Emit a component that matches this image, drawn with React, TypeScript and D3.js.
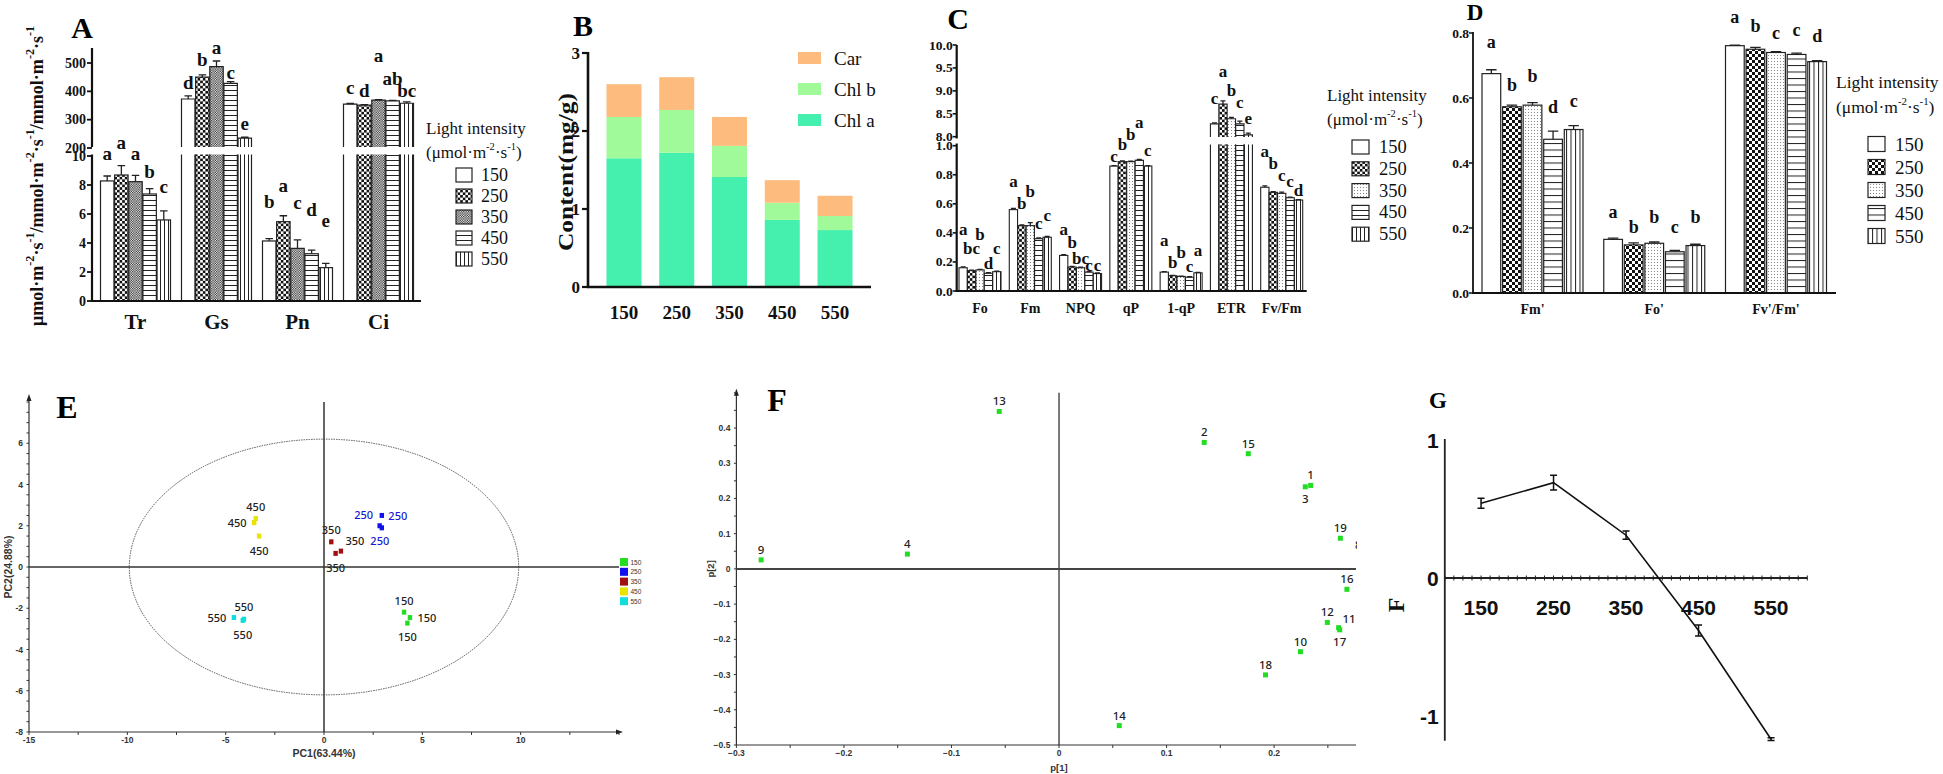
import React from 'react';
import * as d3 from 'd3';

const SERIF = '"Liberation Serif","Times New Roman",Times,serif';
const SANS = '"Liberation Sans",Arial,Helvetica,sans-serif';
const NOTO = '"Noto Sans","Open Sans",sans-serif';

// ---------------- data ----------------
const lightLevels = ['150', '250', '350', '450', '550'];

// A: gas exchange
const gasParams = ['Tr', 'Gs', 'Pn', 'Ci'];
const gasBrokenParams = ['Gs', 'Ci'];
const gasValues = [
  [8.28, 8.69, 8.23, 7.38, 5.59],
  [373, 450, 487, 428, 235],
  [4.14, 5.47, 3.63, 3.26, 2.3],
  [355, 351, 369, 366, 358],
];
const gasErrors = [
  [0.34, 0.64, 0.44, 0.37, 0.62],
  [11, 8, 20, 6, 3],
  [0.16, 0.41, 0.58, 0.25, 0.3],
  [2, 2, 2, 2, 5],
];
const gasLetters = [
  ['a', 'a', 'a', 'b', 'c'],
  ['d', 'b', 'a', 'c', 'e'],
  ['b', 'a', 'c', 'd', 'e'],
  ['c', 'd', 'a', 'ab', 'bc'],
];
const gasLowTicks = [0, 2, 4, 6, 8, 10];
const gasHighTicks = [200, 300, 400, 500];

// B: pigments
const pigmentKeys = ['Chl a', 'Chl b', 'Car'];
const chlA = [1.65, 1.72, 1.41, 0.86, 0.73];
const chlB = [0.53, 0.55, 0.4, 0.22, 0.18];
const car = [0.42, 0.42, 0.37, 0.29, 0.26];
const pigmentTicks = [0, 1, 2, 3];
const legendOrder = ['Car', 'Chl b', 'Chl a'];

// C: chlorophyll fluorescence
const chlfParams = ['Fo', 'Fm', 'NPQ', 'qP', '1-qP', 'ETR', 'Fv/Fm'];
const chlfBrokenParams = ['ETR'];
const chlfValues = [
  [0.16, 0.14, 0.145, 0.122, 0.133],
  [0.56, 0.45, 0.45, 0.36, 0.37],
  [0.245, 0.165, 0.16, 0.13, 0.12],
  [0.86, 0.89, 0.89, 0.9, 0.86],
  [0.13, 0.105, 0.1, 0.095, 0.125],
  [8.28, 8.71, 8.39, 8.28, 8.04],
  [0.714, 0.679, 0.672, 0.642, 0.626],
];
const chlfErrors = [
  [0.006, 0.004, 0.004, 0.004, 0.004],
  [0.008, 0.005, 0.02, 0.005, 0.005],
  [0.005, 0.004, 0.004, 0.004, 0.004],
  [0.003, 0.005, 0.003, 0.005, 0.003],
  [0.003, 0.003, 0.003, 0.003, 0.003],
  [0.02, 0.07, 0.03, 0.06, 0.04],
  [0.01, 0.004, 0.008, 0.004, 0.003],
];
const chlfLetters = [
  ['a', 'bc', 'b', 'd', 'c'],
  ['a', 'b', 'b', 'c', 'c'],
  ['a', 'b', 'bc', 'c', 'c'],
  ['c', 'b', 'b', 'a', 'c'],
  ['a', 'b', 'b', 'c', 'a'],
  ['c', 'a', 'b', 'c', 'e'],
  ['a', 'b', 'c', 'c', 'd'],
];
const chlfLowTicks = [0, 0.2, 0.4, 0.6, 0.8, 1.0];
const chlfHighTicks = [8.0, 8.5, 9.0, 9.5, 10.0];

// D: light-adapted fluorescence
const lightParams = ["Fm'", "Fo'", "Fv'/Fm'"];
const lightValues = [
  [0.675, 0.573, 0.578, 0.473, 0.503],
  [0.165, 0.148, 0.153, 0.127, 0.146],
  [0.761, 0.75, 0.74, 0.734, 0.712],
];
const lightErrors = [
  [0.012, 0.005, 0.008, 0.025, 0.012],
  [0.004, 0.006, 0.004, 0.004, 0.004],
  [0.002, 0.006, 0.003, 0.004, 0.003],
];
const lightLetters = [
  ['a', 'b', 'b', 'd', 'c'],
  ['a', 'b', 'b', 'c', 'b'],
  ['a', 'b', 'c', 'c', 'd'],
];
const lightTicks = [0, 0.2, 0.4, 0.6, 0.8];

// E: PCA scores
const pcaGroups = ['150', '250', '350', '450', '550'];
const pcaPC1 = [
  [4.07, 4.37, 4.24],
  [2.94, 2.83, 2.94],
  [0.37, 0.59, 0.86],
  [-3.47, -3.55, -3.3],
  [-4.58, -4.07, -4.13],
];
const pcaPC2 = [
  [-2.19, -2.45, -2.72],
  [2.5, 2.0, 1.9],
  [1.22, 0.66, 0.77],
  [2.35, 2.15, 1.5],
  [-2.45, -2.53, -2.59],
];
const pcaEllipse = [9.9, 6.2];
const pcaXTicks = [-15, -10, -5, 0, 5, 10];
const pcaYTicks = [-8, -6, -4, -2, 0, 2, 4, 6];

// F: loadings
const loadingIds = ['1', '2', '3', '4', '8', '9', '10', '11', '12', '13', '14', '15', '16', '17', '18', '19'];
const loadingP1 = [0.234, 0.135, 0.229, -0.141, 0.282, -0.277, 0.2245, 0.26, 0.2495, -0.0556, 0.056, 0.176, 0.2677, 0.261, 0.192, 0.2616];
const loadingP2 = [0.237, 0.359, 0.233, 0.042, 0.103, 0.0256, -0.235, -0.167, -0.152, 0.447, -0.445, 0.327, -0.058, -0.173, -0.301, 0.087];
const loadXTicks = [-0.3, -0.2, -0.1, 0, 0.1, 0.2];
const loadYTicks = [-0.5, -0.4, -0.3, -0.2, -0.1, 0, 0.1, 0.2, 0.3, 0.4];

// G: comprehensive score
const gLevels = [150, 250, 350, 450, 550];
const gScores = [0.541, 0.691, 0.31, -0.38, -1.168];
const gErrors = [0.036, 0.053, 0.03, 0.04, 0.01];
const gYTicks = [-1, 0, 1];

// ---------------- layout / style ----------------
const gasLetterLift = [
  [16, 17, 15, 11, 18],
  [7, 9, 7, 3, 7],
  [31, 24, 31, 34, 36],
  [10, 8, 38, 15, 5],
];
const chlfLetterLift = [
  [32, 16, 29, 4, 17],
  [21, 16, 26, 9, 16],
  [20, 18, 3, 1, 2],
  [4, 11, 21, 32, 10],
  [26, 7, 18, 5, 16],
  [19, 24, 21, 13, 9],
  [29, 23, 11, 10, 4],
];
const lightLetterLift = [
  [22, 14, 21, 18, 19],
  [20, 10, 19, 17, 21],
  [22, 15, 13, 17, 19],
];
const pigmentColors: Record<string, string> = { 'Chl a': '#45EFAD', 'Chl b': '#A0FA9A', Car: '#FDBB7E' };
const pcaColors = ['#22dd22', '#1111ee', '#a01010', '#e8e400', '#11dddd'];
const pcaLabelColors = ['#222', '#1a1ad0', '#222', '#222', '#222'];
const pcaLabelOffset = [
  [[0, -12], [17, 0], [0, 13]],
  [[16, 0], [-16, -11], [-2, 13]],
  [[0, -12], [0, 14], [14, -11]],
  [[0, -12], [-17, 0], [0, 14]],
  [[-17, 0], [0, -12.6], [0, 13.6]],
];
const loadLabelOffset: Record<string, number[]> = { '3': [0, 12], '17': [0, 12], '11': [10.5, -9], '8': [-4, 12] };

const fillsA = ['#fff', 'url(#pChecker)', 'url(#pFine)', 'url(#pHoriz)', 'url(#pVert)'];
const fillsC = ['#fff', 'url(#pChecker)', 'url(#pDots)', 'url(#pHoriz)', 'url(#pVert)'];
const fillsD = ['#fff', 'url(#pCheckerD)', 'url(#pDots)', 'url(#pHorizD)', 'url(#pVertD)'];

const INK = '#222';

function unitSpans(pairs: [string, string][], supSize: number, shift: number) {
  const out: any[] = [];
  let prevSup = false;
  pairs.forEach(([b, e], i) => {
    out.push(
      <tspan key={'b' + i} dy={prevSup ? shift : 0}>
        {b}
      </tspan>
    );
    prevSup = false;
    if (e) {
      out.push(
        <tspan key={'e' + i} dy={-shift} fontSize={supSize}>
          {e}
        </tspan>
      );
      prevSup = true;
    }
  });
  return out;
}

type BarCfg = {
  prefix: string;
  cats: string[];
  values: number[][];
  errors: number[][];
  letters: string[][];
  lifts: number[][];
  x: any;
  sub: any;
  yLow: any;
  yHigh?: any;
  broken: string[];
  lowCut?: number;
  highCut?: number;
  fills: string[];
  letterSize: number;
  strokeW: number;
};

function Bars(c: BarCfg) {
  const els: any[] = [];
  const base = c.yLow(0);
  c.cats.forEach((cat, ci) => {
    const isBroken = c.broken.includes(cat);
    const y = (v: number) => (isBroken ? c.yHigh(v) : c.yLow(v));
    lightLevels.forEach((lv, si) => {
      const v = c.values[ci][si];
      const e = c.errors[ci][si];
      const bw = c.sub.bandwidth();
      const bx = c.x(cat) + c.sub(lv);
      const fill = c.fills[si];
      const k = `${c.prefix}-${ci}-${si}`;
      const yt = y(v);
      if (isBroken) {
        const lc = c.lowCut as number;
        const hc = c.highCut as number;
        els.push(<rect key={k + 'lo'} x={bx} y={lc} width={bw} height={base - lc} fill={fill} />);
        els.push(
          <path key={k + 'lop'} d={`M${bx},${base}V${lc}M${bx + bw},${lc}V${base}`} stroke={INK} strokeWidth={c.strokeW} fill="none" />
        );
        els.push(<rect key={k + 'hi'} x={bx} y={yt} width={bw} height={hc - yt} fill={fill} />);
        els.push(
          <path key={k + 'hip'} d={`M${bx},${hc}V${yt}H${bx + bw}V${hc}`} stroke={INK} strokeWidth={c.strokeW} fill="none" />
        );
      } else {
        els.push(
          <rect key={k + 'r'} x={bx} y={yt} width={bw} height={base - yt} fill={fill} stroke={INK} strokeWidth={c.strokeW} />
        );
      }
      const ye = y(v + e);
      const cx = bx + bw / 2;
      const cw = Math.max(2.5, bw * 0.28);
      els.push(
        <path key={k + 'e'} d={`M${cx},${yt}V${ye}M${cx - cw},${ye}H${cx + cw}`} stroke={INK} strokeWidth={1.3} fill="none" />
      );
      els.push(
        <text
          key={k + 't'}
          x={cx}
          y={ye - c.lifts[ci][si]}
          textAnchor="middle"
          fontFamily={SERIF}
          fontWeight="bold"
          fontSize={c.letterSize}
          fill="#111"
        >
          {c.letters[ci][si]}
        </text>
      );
    });
  });
  return <g>{els}</g>;
}

function LightLegend(p: {
  x: number;
  titleY: number;
  unitY: number;
  boxX: number;
  boxW: number;
  boxH: number;
  row0: number;
  rowGap: number;
  labelX: number;
  fills: string[];
  size: number;
  labelSize: number;
}) {
  return (
    <g fontFamily={SERIF} fill="#111">
      <text x={p.x} y={p.titleY} dominantBaseline="central" fontSize={p.size}>
        Light intensity
      </text>
      <text x={p.x} y={p.unitY} dominantBaseline="central" fontSize={p.size}>
        {unitSpans(
          [
            ['(μmol·m', '-2'],
            ['·s', '-1'],
            [')', ''],
          ],
          p.size * 0.62,
          6
        )}
      </text>
      {lightLevels.map((l, i) => {
        const cy = p.row0 + i * p.rowGap;
        return (
          <g key={l}>
            <rect x={p.boxX} y={cy - p.boxH / 2} width={p.boxW} height={p.boxH} fill={p.fills[i]} stroke={INK} strokeWidth={1.2} />
            <text x={p.labelX} y={cy} dominantBaseline="central" fontSize={p.labelSize}>
              {l}
            </text>
          </g>
        );
      })}
    </g>
  );
}

function PanelA() {
  const axisX = 92;
  const yLow = d3.scaleLinear([0, 10], [301, 156]);
  const yHigh = d3.scaleLinear([200, 500], [148, 63]);
  const x = d3.scalePoint(gasParams, [135.5, 378.5]);
  const sub = d3.scaleBand(lightLevels, [-35, 35]).paddingInner(0.05);
  return (
    <g>
      <text x={82} y={27} dominantBaseline="central" textAnchor="middle" fontFamily={SERIF} fontWeight="bold" fontSize={30}>
        A
      </text>
      <Bars
        prefix="A"
        cats={gasParams}
        values={gasValues}
        errors={gasErrors}
        letters={gasLetters}
        lifts={gasLetterLift}
        x={x}
        sub={sub}
        yLow={yLow}
        yHigh={yHigh}
        broken={gasBrokenParams}
        lowCut={154.5}
        highCut={147}
        fills={fillsA}
        letterSize={19}
        strokeW={1.2}
      />
      {/* axes */}
      <path d={`M${axisX},${yLow(0)}V154.5`} stroke="#111" strokeWidth={2.2} fill="none" />
      <path d={`M${axisX},147V${yHigh(553)}`} stroke="#111" strokeWidth={2.2} fill="none" />
      <path d={`M${axisX - 1},${yLow(0)}H421`} stroke="#111" strokeWidth={2.2} fill="none" />
      <g fontFamily={SERIF} fontWeight="bold" fontSize={14} fill="#111">
        {gasLowTicks.map((t) => (
          <g key={'l' + t}>
            <path d={`M${axisX - 5},${yLow(t)}H${axisX}`} stroke="#111" strokeWidth={1.8} />
            <text x={axisX - 6} y={yLow(t)} textAnchor="end" dominantBaseline="central">
              {t}
            </text>
          </g>
        ))}
        {gasHighTicks.map((t) => (
          <g key={'h' + t}>
            <path d={`M${axisX - 5},${yHigh(t)}H${axisX}`} stroke="#111" strokeWidth={1.8} />
            <text x={axisX - 6} y={yHigh(t)} textAnchor="end" dominantBaseline="central">
              {t}
            </text>
          </g>
        ))}
      </g>
      <g fontFamily={SERIF} fontWeight="bold" fontSize={21} fill="#111">
        {gasParams.map((p) => (
          <text key={p} x={x(p)} y={322} textAnchor="middle" dominantBaseline="central">
            {p}
          </text>
        ))}
      </g>
      <text
        transform="translate(37,176) rotate(-90)"
        textAnchor="middle"
        dominantBaseline="central"
        fontFamily={SERIF}
        fontWeight="bold"
        fontSize={18}
        textLength={300}
        lengthAdjust="spacingAndGlyphs"
        fill="#111"
      >
        {unitSpans(
          [
            ['μmol·m', '-2'],
            ['·s', '-1'],
            ['/mmol·m', '-2'],
            ['·s', '-1'],
            ['/mmol·m', '-2'],
            ['·s', '-1'],
          ],
          12,
          7
        )}
      </text>
      <LightLegend
        x={426}
        titleY={128}
        unitY={152}
        boxX={456}
        boxW={16}
        boxH={14}
        row0={175}
        rowGap={21}
        labelX={481}
        fills={fillsA}
        size={17}
        labelSize={18}
      />
    </g>
  );
}

function PanelB() {
  const y = d3.scaleLinear([0, 3], [287, 53]);
  const x = d3.scaleBand(lightLevels, [588, 871]).paddingInner(0.3365).paddingOuter(0.35);
  const rows = lightLevels.map((l, i) => ({ level: l, 'Chl a': chlA[i], 'Chl b': chlB[i], Car: car[i] }));
  const series = d3.stack<any>().keys(pigmentKeys)(rows);
  return (
    <g>
      <text x={583} y={25} dominantBaseline="central" textAnchor="middle" fontFamily={SERIF} fontWeight="bold" fontSize={30}>
        B
      </text>
      {series.map((s) => (
        <g key={s.key} fill={pigmentColors[s.key]}>
          {s.map((d: any, i: number) => (
            <rect key={i} x={x(lightLevels[i])} y={y(d[1])} width={x.bandwidth()} height={y(d[0]) - y(d[1])} />
          ))}
        </g>
      ))}
      <path d={`M588,${y(0)}V${y(3) - 1}`} stroke="#111" strokeWidth={2.6} fill="none" />
      <path d={`M587,${y(0)}H871`} stroke="#111" strokeWidth={2.6} fill="none" />
      <g fontFamily={SERIF} fontWeight="bold" fontSize={17} fill="#111">
        {pigmentTicks.map((t) => (
          <g key={t}>
            <path d={`M582,${y(t)}H588`} stroke="#111" strokeWidth={2.2} />
            <text x={580} y={y(t)} textAnchor="end" dominantBaseline="central">
              {t}
            </text>
          </g>
        ))}
      </g>
      <g fontFamily={SERIF} fontWeight="bold" fontSize={19} fill="#111">
        {lightLevels.map((l) => (
          <text key={l} x={(x(l) as number) + x.bandwidth() / 2} y={312} textAnchor="middle" dominantBaseline="central">
            {l}
          </text>
        ))}
      </g>
      <text
        transform="translate(566,172) rotate(-90)"
        textAnchor="middle"
        dominantBaseline="central"
        fontFamily={SERIF}
        fontWeight="bold"
        fontSize={21}
        textLength={158}
        lengthAdjust="spacingAndGlyphs"
        fill="#111"
      >
        Content(mg/g)
      </text>
      <g fontFamily={SERIF} fontSize={19} fill="#111">
        {legendOrder.map((k, i) => (
          <g key={k}>
            <rect x={798} y={52 + i * 31} width={23} height={12} fill={pigmentColors[k]} />
            <text x={834} y={58 + i * 31} dominantBaseline="central">
              {k}
            </text>
          </g>
        ))}
      </g>
    </g>
  );
}

function PanelC() {
  const axisX = 956.7;
  const yLow = d3.scaleLinear([0, 1], [291, 145.7]);
  const yHigh = d3.scaleLinear([8, 10], [136.7, 45]);
  const x = d3.scalePoint(chlfParams, [980, 1281.7]);
  const sub = d3.scaleBand(lightLevels, [-21, 21]).paddingInner(0.02);
  return (
    <g>
      <text x={958} y={18} dominantBaseline="central" textAnchor="middle" fontFamily={SERIF} fontWeight="bold" fontSize={30}>
        C
      </text>
      <Bars
        prefix="C"
        cats={chlfParams}
        values={chlfValues}
        errors={chlfErrors}
        letters={chlfLetters}
        lifts={chlfLetterLift}
        x={x}
        sub={sub}
        yLow={yLow}
        yHigh={yHigh}
        broken={chlfBrokenParams}
        lowCut={144.5}
        highCut={137}
        fills={fillsC}
        letterSize={17}
        strokeW={1.1}
      />
      <path d={`M${axisX},${yLow(0)}V143.5`} stroke="#111" strokeWidth={2.2} fill="none" />
      <path d={`M${axisX},138.5V${yHigh(10)}`} stroke="#111" strokeWidth={2.2} fill="none" />
      <path d={`M${axisX - 1},${yLow(0)}H1306.7`} stroke="#111" strokeWidth={2.2} fill="none" />
      <g fontFamily={SERIF} fontWeight="bold" fontSize={13.5} fill="#111">
        {chlfLowTicks.map((t) => (
          <g key={'l' + t}>
            <path d={`M${axisX - 4},${yLow(t)}H${axisX}`} stroke="#111" strokeWidth={1.6} />
            <text x={axisX - 4} y={yLow(t)} textAnchor="end" dominantBaseline="central">
              {t.toFixed(1)}
            </text>
          </g>
        ))}
        {chlfHighTicks.map((t) => (
          <g key={'h' + t}>
            <path d={`M${axisX - 4},${yHigh(t)}H${axisX}`} stroke="#111" strokeWidth={1.6} />
            <text x={axisX - 4} y={yHigh(t)} textAnchor="end" dominantBaseline="central">
              {t.toFixed(1)}
            </text>
          </g>
        ))}
      </g>
      <g fontFamily={SERIF} fontWeight="bold" fontSize={14} fill="#111">
        {chlfParams.map((p) => (
          <text key={p} x={x(p)} y={308.5} textAnchor="middle" dominantBaseline="central">
            {p}
          </text>
        ))}
      </g>
      <LightLegend
        x={1327}
        titleY={95}
        unitY={119}
        boxX={1352}
        boxW={17}
        boxH={14}
        row0={147}
        rowGap={21.8}
        labelX={1379}
        fills={fillsC}
        size={17}
        labelSize={18.5}
      />
    </g>
  );
}

function PanelD() {
  const axisX = 1473;
  const y = d3.scaleLinear([0, 0.8], [293, 33]);
  const x = d3.scalePoint(lightParams, [1532.5, 1776]);
  const sub = d3.scaleBand(lightLevels, [-50.5, 50.5]).paddingInner(0.09);
  return (
    <g>
      <text x={1475} y={12} dominantBaseline="central" textAnchor="middle" fontFamily={SERIF} fontWeight="bold" fontSize={23}>
        D
      </text>
      <Bars
        prefix="D"
        cats={lightParams}
        values={lightValues}
        errors={lightErrors}
        letters={lightLetters}
        lifts={lightLetterLift}
        x={x}
        sub={sub}
        yLow={y}
        broken={[]}
        fills={fillsD}
        letterSize={18}
        strokeW={1.2}
      />
      <path d={`M${axisX},${y(0)}V${y(0.8) - 1}`} stroke="#111" strokeWidth={1.8} fill="none" />
      <path d={`M${axisX - 1},${y(0)}H1836`} stroke="#111" strokeWidth={1.8} fill="none" />
      <g fontFamily={SERIF} fontWeight="bold" fontSize={13.5} fill="#111">
        {lightTicks.map((t) => (
          <g key={t}>
            <path d={`M${axisX - 4},${y(t)}H${axisX}`} stroke="#111" strokeWidth={1.5} />
            <text x={axisX - 4} y={y(t)} textAnchor="end" dominantBaseline="central">
              {t.toFixed(1)}
            </text>
          </g>
        ))}
      </g>
      <g fontFamily={SERIF} fontWeight="bold" fontSize={14} fill="#111">
        {lightParams.map((p) => (
          <text key={p} x={x(p)} y={309.5} textAnchor="middle" dominantBaseline="central">
            {p}
          </text>
        ))}
      </g>
      <LightLegend
        x={1836}
        titleY={82}
        unitY={107}
        boxX={1868}
        boxW={17}
        boxH={15}
        row0={144}
        rowGap={23}
        labelX={1895}
        fills={fillsD}
        size={17.5}
        labelSize={19}
      />
    </g>
  );
}

function Arrow({ x, y, dir }: { x: number; y: number; dir: 'up' | 'right' }) {
  const d = dir === 'up' ? `M${x - 2.5},${y + 7}L${x},${y}L${x + 2.5},${y + 7}Z` : `M${x - 7},${y - 2.5}L${x},${y}L${x - 7},${y + 2.5}Z`;
  return <path d={d} fill="#222" />;
}

function PanelE() {
  const x = d3.scaleLinear([-15, 15], [29, 619]);
  const y = d3.scaleLinear([-8, 8], [732, 402]);
  const minorX = d3.range(-15, 15.01, 2.5);
  const minorY = d3.range(-8, 8.01, 0.5);
  return (
    <g>
      <text x={67} y={407} dominantBaseline="central" textAnchor="middle" fontFamily={SERIF} fontWeight="bold" fontSize={32}>
        E
      </text>
      <ellipse
        cx={x(0)}
        cy={y(0)}
        rx={x(pcaEllipse[0]) - x(0)}
        ry={y(0) - y(pcaEllipse[1])}
        fill="none"
        stroke="#555"
        strokeWidth={1}
        strokeDasharray="1.5,1"
      />
      {/* frame axes */}
      <path d={`M${x(-15)},${y(-8)}V${y(8) - 4}`} stroke="#333" strokeWidth={1.2} fill="none" />
      <path d={`M${x(-15)},${y(-8)}H${x(15)}`} stroke="#333" strokeWidth={1.2} fill="none" />
      <Arrow x={x(-15)} y={y(8) - 8} dir="up" />
      <Arrow x={x(15) + 4} y={y(-8)} dir="right" />
      {minorX.map((t) => (
        <path key={'mx' + t} d={`M${x(t)},${y(-8)}v3`} stroke="#333" strokeWidth={1} />
      ))}
      {minorY.map((t) => (
        <path key={'my' + t} d={`M${x(-15)},${y(t)}h-2.5`} stroke="#333" strokeWidth={1} />
      ))}
      {/* origin lines */}
      <path d={`M${x(0)},${y(8)}V${y(-8)}`} stroke="#333" strokeWidth={1.5} fill="none" />
      <path d={`M${x(-15)},${y(0)}H${x(15)}`} stroke="#333" strokeWidth={1.5} fill="none" />
      <g fontFamily={SANS} fontWeight="bold" fontSize={8.5} fill="#333">
        {pcaXTicks.map((t) => (
          <text key={'x' + t} x={x(t)} y={740} textAnchor="middle" dominantBaseline="central">
            {t}
          </text>
        ))}
        {pcaYTicks.map((t) => (
          <text key={'y' + t} x={x(-15) - 6} y={y(t)} textAnchor="end" dominantBaseline="central">
            {t}
          </text>
        ))}
      </g>
      <text x={x(0)} y={753} textAnchor="middle" dominantBaseline="central" fontFamily={SANS} fontWeight="bold" fontSize={10.5} fill="#333">
        PC1(63.44%)
      </text>
      <text
        transform={`translate(8,${y(0)}) rotate(-90)`}
        textAnchor="middle"
        dominantBaseline="central"
        fontFamily={SANS}
        fontWeight="bold"
        fontSize={10.5}
        fill="#333"
      >
        PC2(24.88%)
      </text>
      {pcaGroups.map((g, gi) =>
        pcaPC1[gi].map((v, i) => {
          const px = x(v);
          const py = y(pcaPC2[gi][i]);
          const [dx, dy] = pcaLabelOffset[gi][i];
          return (
            <g key={g + i}>
              <rect x={px - 2.2} y={py - 2.5} width={4.4} height={5} fill={pcaColors[gi]} />
              <text
                x={px + dx}
                y={py + dy}
                textAnchor="middle"
                dominantBaseline="central"
                fontFamily={NOTO}
                fontSize={11}
                fontWeight={500}
                fill={pcaLabelColors[gi]}
              >
                {g}
              </text>
            </g>
          );
        })
      )}
      {pcaGroups.map((g, gi) => (
        <g key={'lg' + g}>
          <rect x={620} y={558 + gi * 9.8} width={8} height={8} fill={pcaColors[gi]} />
          <text x={630.5} y={562 + gi * 9.8} dominantBaseline="central" fontFamily={SANS} fontSize={6.5} fill="#333">
            {g}
          </text>
        </g>
      ))}
    </g>
  );
}

function PanelF() {
  const x = d3.scaleLinear([-0.3, 0.2], [736.4, 1274.1]);
  const y = d3.scaleLinear([-0.5, 0.4], [745, 428]);
  const xEnd = 1356;
  const yTop = y(0.5);
  const minorX = d3.range(-0.3, 0.276, 0.05);
  const minorY = d3.range(-0.5, 0.501, 0.05);
  return (
    <g>
      <defs>
        <clipPath id="clipF">
          <rect x={730} y={385} width={xEnd - 730 + 1} height={370} />
        </clipPath>
      </defs>
      <text x={777} y={400} dominantBaseline="central" textAnchor="middle" fontFamily={SERIF} fontWeight="bold" fontSize={32}>
        F
      </text>
      <path d={`M${x(-0.3)},${y(-0.5)}V${yTop + 2}`} stroke="#333" strokeWidth={1.2} fill="none" />
      <path d={`M${x(-0.3)},${y(-0.5)}H${xEnd}`} stroke="#333" strokeWidth={1.2} fill="none" />
      <Arrow x={x(-0.3)} y={yTop - 4} dir="up" />
      {minorX.map((t) => (
        <path key={'mx' + t} d={`M${x(t)},${y(-0.5)}v3`} stroke="#333" strokeWidth={1} />
      ))}
      {minorY.map((t) => (
        <path key={'my' + t} d={`M${x(-0.3)},${y(t)}h-2.5`} stroke="#333" strokeWidth={1} />
      ))}
      <path d={`M${x(0)},${yTop}V${y(-0.5)}`} stroke="#333" strokeWidth={1.3} fill="none" />
      <path d={`M${x(-0.3)},${y(0)}H${xEnd}`} stroke="#444" strokeWidth={2} fill="none" />
      <g fontFamily={SANS} fontWeight="bold" fontSize={8.5} fill="#333">
        {loadXTicks.map((t) => (
          <text key={'x' + t} x={x(t)} y={753} textAnchor="middle" dominantBaseline="central">
            {d3.format('.1~f')(t)}
          </text>
        ))}
        {loadYTicks.map((t) => (
          <text key={'y' + t} x={x(-0.3) - 6} y={y(t)} textAnchor="end" dominantBaseline="central">
            {d3.format('.1~f')(t)}
          </text>
        ))}
      </g>
      <text x={x(0)} y={767} textAnchor="middle" dominantBaseline="central" fontFamily={SANS} fontWeight="bold" fontSize={9.5} fill="#333">
        p[1]
      </text>
      <text
        transform={`translate(710,${y(0)}) rotate(-90)`}
        textAnchor="middle"
        dominantBaseline="central"
        fontFamily={SANS}
        fontWeight="bold"
        fontSize={9.5}
        fill="#333"
      >
        p[2]
      </text>
      <g clipPath="url(#clipF)">
        {loadingIds.map((id, i) => {
          const px = x(loadingP1[i]);
          const py = y(loadingP2[i]);
          const [dx, dy] = loadLabelOffset[id] || [0, -10.5];
          return (
            <g key={id}>
              <rect x={px - 2.5} y={py - 2.5} width={5} height={5} fill="#22dd22" />
              <text
                x={px + dx}
                y={py + dy}
                textAnchor="middle"
                dominantBaseline="central"
                fontFamily={NOTO}
                fontSize={11.5}
                fontWeight={500}
                fill="#222"
              >
                {id}
              </text>
            </g>
          );
        })}
      </g>
    </g>
  );
}

function PanelG() {
  const x = d3.scaleLinear([100, 600], [1444.8, 1807.3]);
  const y = d3.scaleLinear([-1, 1], [716, 440]);
  const minor = d3.range(100, 600.01, 12.5);
  const line = d3
    .line<number>()
    .x((d, i) => x(gLevels[i]))
    .y((d) => y(d));
  return (
    <g>
      <text x={1438} y={400} dominantBaseline="central" textAnchor="middle" fontFamily={SERIF} fontWeight="bold" fontSize={23}>
        G
      </text>
      <path d={`M${x(100)},${y(1) - 1}V${y(-1.18)}`} stroke="#222" strokeWidth={1.8} fill="none" />
      <path d={`M${x(100)},${y(0)}H${x(600)}`} stroke="#222" strokeWidth={1.8} fill="none" />
      {minor.map((t) => (
        <path key={t} d={`M${x(t)},${y(0) - 2.5}v5`} stroke="#222" strokeWidth={1} />
      ))}
      <g fontFamily={SANS} fontWeight="bold" fontSize={21} fill="#111">
        {gYTicks.map((t) => (
          <text key={t} x={x(100) - 6} y={y(t)} textAnchor="end" dominantBaseline="central">
            {t}
          </text>
        ))}
        {gLevels.map((l) => (
          <text key={l} x={x(l)} y={607} textAnchor="middle" dominantBaseline="central">
            {l}
          </text>
        ))}
      </g>
      <path d={line(gScores) as string} fill="none" stroke="#111" strokeWidth={1.6} />
      {gLevels.map((l, i) => {
        const cx = x(l);
        const y1 = y(gScores[i] + gErrors[i]);
        const y2 = y(gScores[i] - gErrors[i]);
        return (
          <path key={'e' + l} d={`M${cx},${y1}V${y2}M${cx - 3.5},${y1}H${cx + 3.5}M${cx - 3.5},${y2}H${cx + 3.5}`} stroke="#111" strokeWidth={1.5} fill="none" />
        );
      })}
      <text
        transform="translate(1396,605) rotate(-90)"
        textAnchor="middle"
        dominantBaseline="central"
        fontFamily={SERIF}
        fontWeight="bold"
        fontSize={24}
        fill="#111"
      >
        F
      </text>
    </g>
  );
}

export default function App() {
  return (
    <svg width={1943} height={774} style={{ position: 'absolute', left: 0, top: 0, background: '#fff' }}>
      <defs>
        <pattern id="pChecker" width="5.2" height="5.2" patternUnits="userSpaceOnUse">
          <rect width="5.2" height="5.2" fill="#fff" />
          <rect width="2.6" height="2.6" fill="#111" />
          <rect x="2.6" y="2.6" width="2.6" height="2.6" fill="#111" />
        </pattern>
        <pattern id="pCheckerD" width="6" height="6" patternUnits="userSpaceOnUse">
          <rect width="6" height="6" fill="#fff" />
          <rect width="3" height="3" fill="#111" />
          <rect x="3" y="3" width="3" height="3" fill="#111" />
        </pattern>
        <pattern id="pFine" width="2.4" height="2.4" patternUnits="userSpaceOnUse">
          <rect width="2.4" height="2.4" fill="#fff" />
          <rect width="1.2" height="1.2" fill="#222" />
          <rect x="1.2" y="1.2" width="1.2" height="1.2" fill="#222" />
        </pattern>
        <pattern id="pDots" width="3" height="3" patternUnits="userSpaceOnUse">
          <rect width="3" height="3" fill="#fff" />
          <rect x="1" y="1" width="1" height="1" fill="#888" />
        </pattern>
        <pattern id="pHoriz" width="4" height="5" patternUnits="userSpaceOnUse">
          <rect width="4" height="5" fill="#fff" />
          <rect y="0" width="4" height="1" fill="#222" />
        </pattern>
        <pattern id="pHorizD" width="4" height="6.5" patternUnits="userSpaceOnUse">
          <rect width="4" height="6.5" fill="#fff" />
          <rect y="0" width="4" height="1" fill="#222" />
        </pattern>
        <pattern id="pVert" width="4" height="4" patternUnits="userSpaceOnUse">
          <rect width="4" height="4" fill="#fff" />
          <rect x="0" width="1" height="4" fill="#222" />
        </pattern>
        <pattern id="pVertD" width="4.5" height="4" patternUnits="userSpaceOnUse">
          <rect width="4.5" height="4" fill="#fff" />
          <rect x="0" width="1" height="4" fill="#222" />
        </pattern>
      </defs>
      <PanelA />
      <PanelB />
      <PanelC />
      <PanelD />
      <PanelE />
      <PanelF />
      <PanelG />
    </svg>
  );
}
